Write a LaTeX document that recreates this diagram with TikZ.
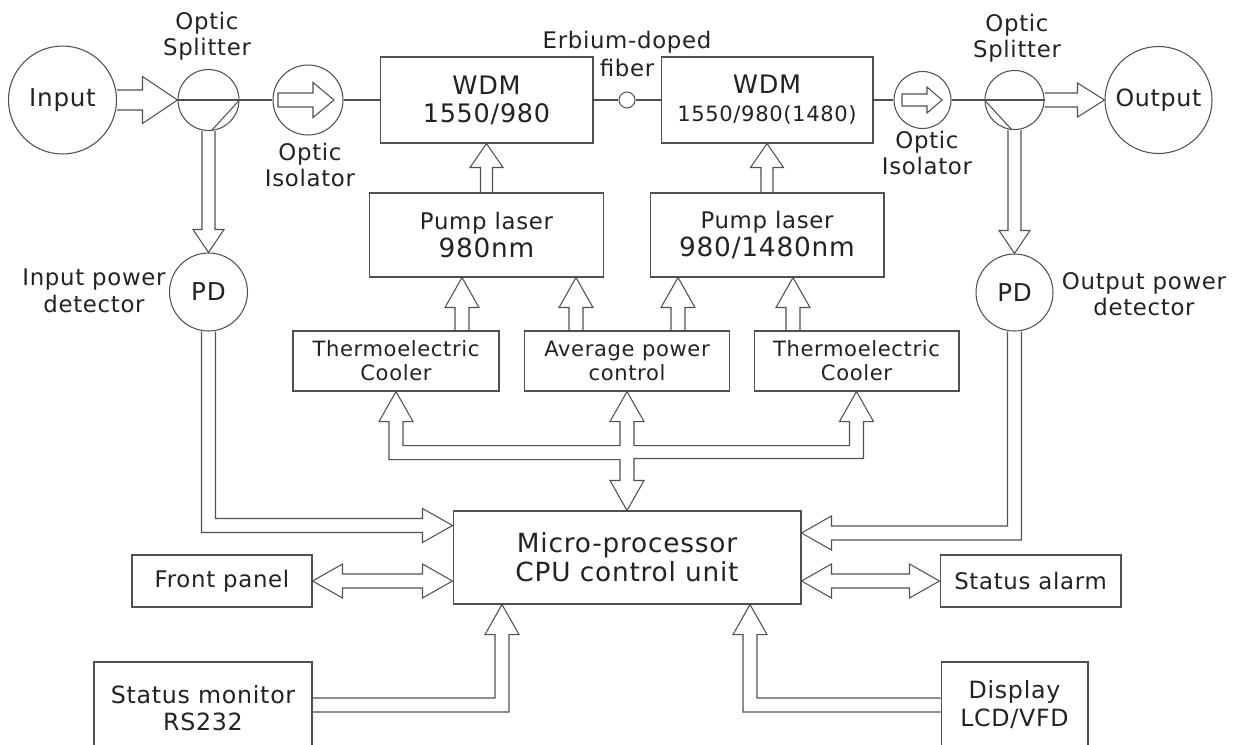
\documentclass[tikz,border=0pt]{standalone}
\usepackage{fontspec}
\setmainfont{DejaVu Sans}[LetterSpace=3]
\usepackage{tikz}
\usetikzlibrary{calc}
\definecolor{AmpLine}{HTML}{505050}
\definecolor{AmpText}{HTML}{222222}
\newcommand{\fatS}{0.14cm}
\newcommand{\fatH}{0.34cm}
\newcommand{\fatL}{0.6cm}
\newcommand{\fatarrow}[3][]{%
  \coordinate (fab) at ($(#3)!\fatL!(#2)$);
  \draw[fat] ($(#2)!\fatS!90:(#3)$) -- ($(fab)!\fatS!90:(#3)$) -- ($(fab)!\fatH!90:(#3)$) -- (#3)
    -- ($(fab)!\fatH!-90:(#3)$) -- ($(fab)!\fatS!-90:(#3)$) -- ($(#2)!\fatS!-90:(#3)$) #1;}
\newcommand{\fatboth}[2]{%
  \coordinate (faa) at ($(#1)!\fatL!(#2)$);
  \coordinate (fab) at ($(#2)!\fatL!(#1)$);
  \draw[fat] (#1) -- ($(faa)!\fatH!90:(#2)$) -- ($(faa)!\fatS!90:(#2)$) -- ($(fab)!\fatS!90:(#2)$) -- ($(fab)!\fatH!90:(#2)$) -- (#2)
    -- ($(fab)!\fatH!-90:(#2)$) -- ($(fab)!\fatS!-90:(#2)$) -- ($(faa)!\fatS!-90:(#2)$) -- ($(faa)!\fatH!-90:(#2)$) -- cycle;}

\begin{document}
\begin{tikzpicture}[x=0.02cm,y=-0.02cm,line width=0.6pt,box/.style={draw=AmpLine,text=AmpText,align=center,inner sep=0pt},disc/.style={draw=AmpLine,text=AmpText,circle,inner sep=0pt},tag/.style={text=AmpText,align=center,inner sep=0pt,font=\fontsize{13}{15}\selectfont},wire/.style={draw=AmpLine},fat/.style={draw=AmpLine,line join=miter}]
  \useasboundingbox (0,0) rectangle (1239,744);
  \clip (0,0) rectangle (1239,744);
  \node[disc,minimum size=2.16cm,font=\fontsize{14}{16}\selectfont] (input) at (62.5,100) {Input};
  \node[disc,minimum size=1.22cm] (split1) at (208.5,100) {};
  \node[disc,minimum size=1.4cm] (iso1) at (308,100) {};
  \node[box,minimum width=4.26cm,minimum height=1.72cm,font=\fontsize{14.5}{15.9}\selectfont] (wdm1) at (486.5,100) {WDM\\1550/980};
  \node[disc,minimum size=0.32cm] (coil) at (627,100) {};
  \node[box,minimum width=4.24cm,minimum height=1.72cm,font=\fontsize{14.5}{15.9}\selectfont] (wdm2) at (767,100) {WDM\\\fontsize{12}{15.9}\selectfont 1550/980(1480)};
  \node[disc,minimum size=1.14cm] (iso2) at (922.5,100) {};
  \node[disc,minimum size=1.18cm] (split2) at (1014.5,100) {};
  \node[disc,minimum size=2.14cm,font=\fontsize{13.5}{16}\selectfont] (output) at (1158.5,100) {Output};
  \node[tag] (split1lbl) at (207,36) {Optic\\Splitter};
  \node[tag] (iso1lbl) at (310,165) {Optic\\Isolator};
  \node[tag,font=\fontsize{13}{15.9}\selectfont] (fiberlbl) at (627,54) {Erbium-doped\\fiber};
  \node[tag] (iso2lbl) at (927,153) {Optic\\Isolator};
  \node[tag] (split2lbl) at (1017,38) {Optic\\Splitter};
  \node[disc,minimum size=1.56cm,font=\fontsize{14}{16}\selectfont] (pdin) at (208.5,292) {PD};
  \node[disc,minimum size=1.54cm,font=\fontsize{14}{16}\selectfont] (pdout) at (1014.5,292.5) {PD};
  \node[tag] (pdinlbl) at (94,291) {Input power\\detector};
  \node[tag] (pdoutlbl) at (1144,294) {Output power\\detector};
  \node[box,minimum width=4.68cm,minimum height=1.68cm,font=\fontsize{13}{16.4}\selectfont] (pump1) at (486.5,235) {Pump laser\\\fontsize{15}{16.4}\selectfont 980nm};
  \node[box,minimum width=4.68cm,minimum height=1.68cm,font=\fontsize{13}{16.4}\selectfont] (pump2) at (767,235) {Pump laser\\\fontsize{15}{16.4}\selectfont 980/1480nm};
  \node[box,minimum width=4.12cm,minimum height=1.2cm,font=\fontsize{12}{13.6}\selectfont] (tec1) at (396,361) {Thermoelectric\\Cooler};
  \node[box,minimum width=4.1cm,minimum height=1.2cm,font=\fontsize{12}{13.6}\selectfont] (apc) at (627,361) {Average power\\control};
  \node[box,minimum width=4.1cm,minimum height=1.2cm,font=\fontsize{12}{13.6}\selectfont] (tec2) at (856.5,361) {Thermoelectric\\Cooler};
  \node[box,minimum width=6.96cm,minimum height=1.86cm,font=\fontsize{15}{16.4}\selectfont] (cpu) at (627,557.5) {Micro-processor\\CPU control unit};
  \node[box,minimum width=3.6cm,minimum height=1.04cm,font=\fontsize{13}{15}\selectfont] (front) at (222,581) {Front panel};
  \node[box,minimum width=3.62cm,minimum height=1.04cm,font=\fontsize{13}{15}\selectfont] (alarm) at (1030.5,581) {Status alarm};
  \node[box,minimum width=4.36cm,minimum height=1.84cm,font=\fontsize{13.5}{15.3}\selectfont] (monitor) at (203,708) {Status monitor\\RS232};
  \node[box,minimum width=2.94cm,minimum height=1.72cm,font=\fontsize{13.5}{15.9}\selectfont] (display) at (1014.5,705) {Display\\LCD/VFD};
  \draw[wire] (split1.west) -- (iso1.west);
  \draw[wire] (split1.east) -- (split1.-85);
  \draw[wire] (iso1.east) -- (wdm1.west);
  \draw[wire] (wdm1.east) -- (coil.west);
  \draw[wire] (coil.east) -- (wdm2.west);
  \draw[wire] (wdm2.east) -- (iso2.west);
  \draw[wire] (iso2.east) -- (split2.east);
  \draw[wire] (split2.west) -- (split2.-95);
  {\renewcommand{\fatS}{0.2cm}\renewcommand{\fatH}{0.47cm}\renewcommand{\fatL}{0.7cm}\fatarrow{input.east}{split1.west}}
  {\renewcommand{\fatL}{0.54cm}\fatarrow{split2.east}{output.west}}
  \coordinate (iso1a) at ($(iso1)+(-30,0)$);
  \coordinate (iso1b) at ($(iso1)+(26,0)$);
  {\renewcommand{\fatH}{0.35cm}\renewcommand{\fatL}{0.42cm}\fatarrow[-- cycle]{iso1a}{iso1b}}
  \coordinate (iso2a) at ($(iso2)+(-20.5,0)$);
  \coordinate (iso2b) at ($(iso2)+(19.5,0)$);
  {\renewcommand{\fatS}{0.12cm}\renewcommand{\fatH}{0.26cm}\renewcommand{\fatL}{0.3cm}\fatarrow[-- cycle]{iso2a}{iso2b}}
  {\renewcommand{\fatS}{0.13cm}\renewcommand{\fatH}{0.31cm}\renewcommand{\fatL}{0.46cm}\fatarrow{split1.south}{pdin.north}\fatarrow{split2.south}{pdout.north}}
  {\renewcommand{\fatS}{0.12cm}\renewcommand{\fatH}{0.33cm}\renewcommand{\fatL}{0.48cm}\fatarrow{pump1.north}{wdm1.south}\fatarrow{pump2.north}{wdm2.south}}
  \foreach \src/\dx/\dst in {tec1/66/pump1,apc/-51/pump1,apc/51/pump2,tec2/-63.5/pump2}{
    \coordinate (cs) at ($(\src.north)+(\dx,0)$);
    \coordinate (ct) at (cs |- \dst.south);
    \fatarrow{cs}{ct}
  }
  \draw[fat] (tec1.south) -- ++(17,30) -- ++(-10,0) |- ($(apc.south)+(-7,54)$) -- ++(0,-24) -- ++(-10,0) -- (apc.south) -- ++(17,30) -- ++(-10,0) |- ($(tec2.south)+(-7,54)$) -- ++(0,-24) -- ++(-10,0) -- (tec2.south) -- ++(17,30) -- ++(-10,0) |- ($(cpu.north)+(7,-52)$) -- ++(0,22) -- ++(10,0) -- (cpu.north) -- ++(-17,-30) -- ++(10,0) |- ($(tec1.south)+(-7,68)$) -- ++(0,-38) -- ++(-10,0) -- cycle;
  \coordinate (cpuL) at ($(cpu.west)+(0,-32)$);
  \draw[fat] ($(pdin.south)+(-7,0)$) |- ($(cpuL)+(-30,7)$) -- ++(0,10) -- (cpuL) -- ($(cpuL)+(-30,-17)$) -- ++(0,10) -| ($(pdin.south)+(7,0)$);
  \coordinate (cpuR) at ($(cpu.east)+(0,-24.5)$);
  \draw[fat] ($(pdout.south)+(-7,0)$) |- ($(cpuR)+(30,-7)$) -- ++(0,-10) -- (cpuR) -- ($(cpuR)+(30,17)$) -- ++(0,-10) -| ($(pdout.south)+(7,0)$);
  \coordinate (cpuF) at (front.east -| cpu.west);
  \fatboth{front.east}{cpuF}
  \coordinate (cpuA) at (alarm.west -| cpu.east);
  \fatboth{cpuA}{alarm.west}
  \coordinate (cpuM) at ($(cpu.south)+(-125,0)$);
  \draw[fat] ($(monitor.east)+(0,-10)$) -| ($(cpuM)+(-7,30)$) -- ++(-10,0) -- (cpuM) -- ($(cpuM)+(17,30)$) -- ++(-10,0) |- ($(monitor.east)+(0,4)$);
  \coordinate (cpuD) at ($(cpu.south)+(123,0)$);
  \draw[fat] ($(display.west)+(0,-7)$) -| ($(cpuD)+(7,30)$) -- ++(10,0) -- (cpuD) -- ($(cpuD)+(-17,30)$) -- ++(10,0) |- ($(display.west)+(0,7)$);
\end{tikzpicture}
\end{document}
